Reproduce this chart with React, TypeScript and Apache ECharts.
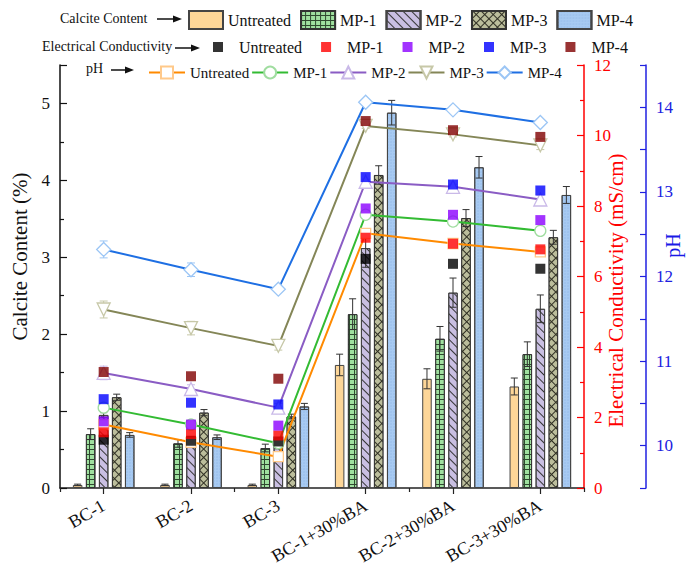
import React, { useEffect, useRef } from 'react';
import * as echarts from 'echarts';

const categories = ['BC-1', 'BC-2', 'BC-3', 'BC-1+30%BA', 'BC-2+30%BA', 'BC-3+30%BA'];
const groupNames = ['Untreated', 'MP-1', 'MP-2', 'MP-3', 'MP-4'];

// Calcite content (%)
const calciteUntreated = [0.04, 0.04, 0.04, 1.60, 1.42, 1.32];
const calciteMP1 = [0.70, 0.58, 0.52, 2.26, 1.94, 1.74];
const calciteMP2 = [0.95, 0.62, 0.56, 3.12, 2.54, 2.33];
const calciteMP3 = [1.18, 0.98, 0.93, 4.07, 3.51, 3.26];
const calciteMP4 = [0.69, 0.66, 1.06, 4.88, 4.17, 3.81];

const calciteErrUntreated = [0.01, 0.01, 0.01, 0.14, 0.13, 0.11];
const calciteErrMP1 = [0.07, 0.05, 0.05, 0.20, 0.16, 0.16];
const calciteErrMP2 = [0.03, 0.05, 0.05, 0.25, 0.19, 0.18];
const calciteErrMP3 = [0.04, 0.04, 0.03, 0.12, 0.11, 0.09];
const calciteErrMP4 = [0.03, 0.03, 0.04, 0.16, 0.14, 0.11];

// Electrical conductivity (mS/cm)
const ecUntreated = [1.37, 1.34, 1.32, 6.50, 6.36, 6.22];
const ecMP1 = [1.58, 1.53, 1.49, 7.10, 6.93, 6.77];
const ecMP2 = [1.89, 1.80, 1.77, 7.93, 7.75, 7.60];
const ecMP3 = [2.52, 2.42, 2.37, 8.82, 8.61, 8.44];
const ecMP4 = [3.29, 3.17, 3.10, 10.41, 10.15, 9.96];

// pH
const phUntreated = [10.25, 10.04, 9.87, 12.51, 12.39, 12.29];
const phMP1 = [10.45, 10.25, 10.03, 12.73, 12.65, 12.54];
const phMP2 = [10.86, 10.67, 10.45, 13.12, 13.06, 12.91];
const phMP3 = [11.61, 11.39, 11.18, 13.78, 13.68, 13.55];
const phMP4 = [12.32, 12.08, 11.85, 14.06, 13.97, 13.82];

const phErrUntreated = [0.03, 0.03, 0.05, 0.05, 0.03, 0.05];
const phErrMP1 = [0.03, 0.03, 0.03, 0.03, 0.05, 0.05];
const phErrMP2 = [0.08, 0.05, 0.05, 0.03, 0.03, 0.05];
const phErrMP3 = [0.10, 0.08, 0.05, 0.03, 0.03, 0.05];
const phErrMP4 = [0.10, 0.08, 0.03, 0.03, 0.03, 0.03];

const FONT = '"Liberation Serif", "DejaVu Serif", serif';
const BAR_W = 9.5;
const BAR_GAP = 0.37;

export default function App() {
  const ref = useRef<HTMLDivElement>(null);

  useEffect(() => {
    if (!ref.current) return;
    const chart = echarts.init(ref.current, undefined, { renderer: 'svg' });

    const calcite = [calciteUntreated, calciteMP1, calciteMP2, calciteMP3, calciteMP4];
    const calciteErr = [calciteErrUntreated, calciteErrMP1, calciteErrMP2, calciteErrMP3, calciteErrMP4];
    const ec = [ecUntreated, ecMP1, ecMP2, ecMP3, ecMP4];
    const ph = [phUntreated, phMP1, phMP2, phMP3, phMP4];
    const phErr = [phErrUntreated, phErrMP1, phErrMP2, phErrMP3, phErrMP4];

    const barStyles: any[] = [
      { color: '#FDD698', borderColor: '#444', borderWidth: 1 },
      {
        color: '#2F4A2F', borderColor: '#333', borderWidth: 1,
        decal: { symbol: 'rect', symbolSize: 1, color: '#9FE09F', dashArrayX: [4, 1], dashArrayY: [3.4, 1] },
      },
      {
        color: '#C9BFE2', borderColor: '#444', borderWidth: 1,
        decal: { symbol: 'rect', symbolSize: 1, color: '#333', dashArrayX: [1, 0], dashArrayY: [1, 5], rotation: Math.PI / 4 },
      },
      {
        color: '#2E2E22', borderColor: '#333', borderWidth: 1,
        decal: { symbol: 'rect', symbolSize: 1, color: '#BCBE9C', dashArrayX: [5, 1], dashArrayY: [5, 1], rotation: Math.PI / 4 },
      },
      {
        color: '#A7CAF2', borderColor: '#444', borderWidth: 1,
        decal: { symbol: 'circle', symbolSize: 0.6, color: '#8FB6E4', dashArrayX: [2, 1], dashArrayY: [2, 1] },
      },
    ];

    const ecColors = ['#000000', '#FF0000', '#8B00FF', '#0000FF', '#800000'];
    const phLineColors = ['#FF8A00', '#33BB33', '#8A5CC4', '#848657', '#1E6FE3'];
    const phMarkColors = ['#FFC98A', '#A0DDA0', '#C9B9E8', '#C7C8A8', '#9CC6F5'];
    const phSymbols = ['rect', 'circle', 'triangle', 'path://M0,0 L10,0 L5,9 Z', 'diamond'];
    const phSizes = [10, 11, 13, 13, 14];

    const series: any[] = [];

    groupNames.forEach((g, i) => {
      series.push({
        type: 'bar',
        name: g,
        xAxisIndex: 0,
        yAxisIndex: 0,
        data: calcite[i],
        barWidth: BAR_W,
        barGap: BAR_GAP * 100 + '%',
        barCategoryGap: '29%',
        itemStyle: barStyles[i],
        z: 2,
      });
    });

    groupNames.forEach((g, i) => {
      const offset = (i - 2) * BAR_W * (1 + BAR_GAP);
      series.push({
        type: 'custom',
        name: 'err-' + g,
        xAxisIndex: 0,
        yAxisIndex: 0,
        z: 3,
        encode: { x: 0, y: 1 },
        data: categories.map((_, k) => [k, calcite[i][k], calciteErr[i][k]]),
        renderItem: (params: any, api: any) => {
          const idx = api.value(0);
          const v = api.value(1);
          const e = api.value(2);
          const c = api.coord([idx, v]);
          const hi = api.coord([idx, v + e]);
          const lo = api.coord([idx, Math.max(0, v - e)]);
          const x = c[0] + offset;
          const st = { stroke: '#333', lineWidth: 1 };
          return {
            type: 'group',
            children: [
              { type: 'line', shape: { x1: x, y1: hi[1], x2: x, y2: lo[1] }, style: st },
              { type: 'line', shape: { x1: x - 3.5, y1: hi[1], x2: x + 3.5, y2: hi[1] }, style: st },
              { type: 'line', shape: { x1: x - 3.5, y1: lo[1], x2: x + 3.5, y2: lo[1] }, style: st },
            ],
          };
        },
      });
    });

    groupNames.forEach((g, i) => {
      series.push({
        type: 'custom',
        name: 'pherr-' + g,
        xAxisIndex: 0,
        yAxisIndex: 2,
        z: 4,
        encode: { x: 0, y: 1 },
        data: categories.map((_, k) => [k, ph[i][k], phErr[i][k]]),
        renderItem: (params: any, api: any) => {
          const idx = api.value(0);
          const v = api.value(1);
          const e = api.value(2);
          const hi = api.coord([idx, v + e]);
          const lo = api.coord([idx, v - e]);
          const x = hi[0];
          const st = { stroke: phMarkColors[i], lineWidth: 1 };
          return {
            type: 'group',
            children: [
              { type: 'line', shape: { x1: x, y1: hi[1], x2: x, y2: lo[1] }, style: st },
              { type: 'line', shape: { x1: x - 4, y1: hi[1], x2: x + 4, y2: hi[1] }, style: st },
              { type: 'line', shape: { x1: x - 4, y1: lo[1], x2: x + 4, y2: lo[1] }, style: st },
            ],
          };
        },
      });
    });

    groupNames.forEach((g, i) => {
      series.push({
        type: 'line',
        name: g + '  ',
        xAxisIndex: 0,
        yAxisIndex: 2,
        data: ph[i],
        symbol: phSymbols[i],
        symbolSize: phSizes[i],
        showSymbol: true,
        lineStyle: { color: phLineColors[i], width: 2 },
        itemStyle: { color: '#FFFFFF', borderColor: phMarkColors[i], borderWidth: 1.3 },
        z: 5,
      });
    });

    groupNames.forEach((g, i) => {
      series.push({
        type: 'scatter',
        name: g + ' ',
        xAxisIndex: 0,
        yAxisIndex: 1,
        data: ec[i],
        symbol: 'rect',
        symbolSize: 10,
        itemStyle: { color: ecColors[i] },
        z: 6,
      });
    });

    const textBase = { fontFamily: FONT, color: '#111' };

    const option: any = {
      animation: false,
      backgroundColor: '#ffffff',
      textStyle: { fontFamily: FONT },
      grid: { left: 60, right: 102, top: 65, bottom: 88, containLabel: false, outerBoundsMode: 'none' },
      legend: [
        {
          data: groupNames,
          left: 188,
          top: 10,
          padding: 0,
          icon: 'rect',
          itemWidth: 34,
          itemHeight: 18,
          itemGap: 9,
          selectedMode: false,
          textStyle: { ...textBase, fontSize: 16 },
        },
        {
          data: groupNames.map((g) => g + ' '),
          left: 213,
          top: 39,
          padding: 0,
          icon: 'rect',
          itemWidth: 10,
          itemHeight: 10,
          itemGap: 19,
          selectedMode: false,
          formatter: (n: string) => n.trim(),
          textStyle: { ...textBase, fontSize: 16, padding: [0, 0, 0, 11] },
        },
        {
          data: groupNames.map((g) => g + '  '),
          left: 148,
          top: 65,
          padding: 0,
          itemWidth: 36,
          itemHeight: 15,
          itemGap: 2,
          selectedMode: false,
          formatter: (n: string) => n.trim(),
          textStyle: { ...textBase, fontSize: 15 },
        },
      ],
      xAxis: [
        {
          type: 'category',
          data: categories,
          position: 'bottom',
          boundaryGap: true,
          axisLine: { show: true, lineStyle: { color: '#222', width: 1.5 } },
          axisTick: { show: true, alignWithLabel: true, length: 6, inside: false, lineStyle: { color: '#222', width: 1.2 } },
          axisLabel: { ...textBase, fontSize: 18, rotate: 30, margin: 16, interval: 0 },
          splitLine: { show: false },
        },
        {
          type: 'category',
          data: categories,
          position: 'bottom',
          offset: 0,
          boundaryGap: true,
          axisLine: { show: false },
          axisTick: { show: true, alignWithLabel: false, length: 4, inside: false, lineStyle: { color: '#222', width: 1.2 } },
          axisLabel: { show: false },
          splitLine: { show: false },
        },
      ],
      yAxis: [
        {
          type: 'value',
          min: 0,
          max: 5.5,
          interval: 1,
          position: 'left',
          name: 'Calcite Content (%)',
          nameLocation: 'middle',
          nameGap: 28,
          nameTextStyle: { ...textBase, fontSize: 21, padding: [0, 0, 0, 40] },
          axisLine: { show: true, lineStyle: { color: '#111', width: 1.5 } },
          axisTick: { show: true, inside: true, length: 7, lineStyle: { color: '#111', width: 1.2 } },
          minorTick: { show: true, splitNumber: 2, length: 4, lineStyle: { color: '#111', width: 1.2 } },
          axisLabel: { ...textBase, fontSize: 17, margin: 10, showMaxLabel: false },
          splitLine: { show: false },
        },
        {
          type: 'value',
          min: 0,
          max: 12,
          interval: 2,
          position: 'right',
          offset: 0,
          name: 'Electrical Conductivity (mS/cm)',
          nameLocation: 'middle',
          nameGap: 21,
          nameMoveOverlap: false,
          nameTextStyle: { fontFamily: FONT, color: '#FF0000', fontSize: 21, padding: [0, 28, 0, 0] },
          axisLine: { show: true, lineStyle: { color: '#FF0000', width: 1.5 } },
          axisTick: { show: true, inside: true, length: 7, lineStyle: { color: '#FF0000', width: 1.2 } },
          minorTick: { show: true, splitNumber: 2, length: 4, lineStyle: { color: '#FF0000', width: 1.2 } },
          axisLabel: { fontFamily: FONT, color: '#FF0000', fontSize: 17, margin: 10 },
          splitLine: { show: false },
        },
        {
          type: 'value',
          min: 9.5,
          max: 14.5,
          interval: 0.5,
          position: 'right',
          offset: 62,
          name: 'pH',
          nameLocation: 'middle',
          nameGap: 17,
          nameMoveOverlap: false,
          nameTextStyle: { fontFamily: FONT, color: '#1A1AE6', fontSize: 20, padding: [0, 0, 0, 62] },
          axisLine: { show: true, lineStyle: { color: '#2020E0', width: 1.5 } },
          axisTick: { show: true, inside: true, length: 6, lineStyle: { color: '#2020E0', width: 1.2 } },
          axisLabel: {
            fontFamily: FONT,
            color: '#2020E0',
            fontSize: 17,
            margin: 10,
            formatter: (v: number) => (Math.abs(v - Math.round(v)) < 1e-6 ? String(Math.round(v)) : ''),
          },
          splitLine: { show: false },
        },
      ],
      graphic: [
        { type: 'text', left: 60, top: 11, style: { text: 'Calcite Content', fontFamily: FONT, fontSize: 14, fill: '#111' } },
        { type: 'line', shape: { x1: 157, y1: 19, x2: 174, y2: 19 }, style: { stroke: '#111', lineWidth: 1.5 } },
        { type: 'polygon', shape: { points: [[173, 15.5], [182, 19], [173, 22.5]] }, style: { fill: '#111' } },

        { type: 'text', left: 42, top: 39, style: { text: 'Electrical Conductivity', fontFamily: FONT, fontSize: 14, fill: '#111' } },
        { type: 'line', shape: { x1: 175, y1: 48, x2: 192, y2: 48 }, style: { stroke: '#111', lineWidth: 1.5 } },
        { type: 'polygon', shape: { points: [[191, 44.5], [200, 48], [191, 51.5]] }, style: { fill: '#111' } },

        { type: 'text', left: 86, top: 61, style: { text: 'pH', fontFamily: FONT, fontSize: 14, fill: '#111' } },
        { type: 'line', shape: { x1: 111, y1: 70, x2: 126, y2: 70 }, style: { stroke: '#111', lineWidth: 1.5 } },
        { type: 'polygon', shape: { points: [[125, 66.5], [134, 70], [125, 73.5]] }, style: { fill: '#111' } },
      ],
      series,
    };

    chart.setOption(option);
    return () => chart.dispose();
  }, []);

  return (
    <div
      ref={ref}
      style={{ position: 'fixed', left: 0, top: 0, width: 686, height: 576, background: '#fff' }}
    />
  );
}
